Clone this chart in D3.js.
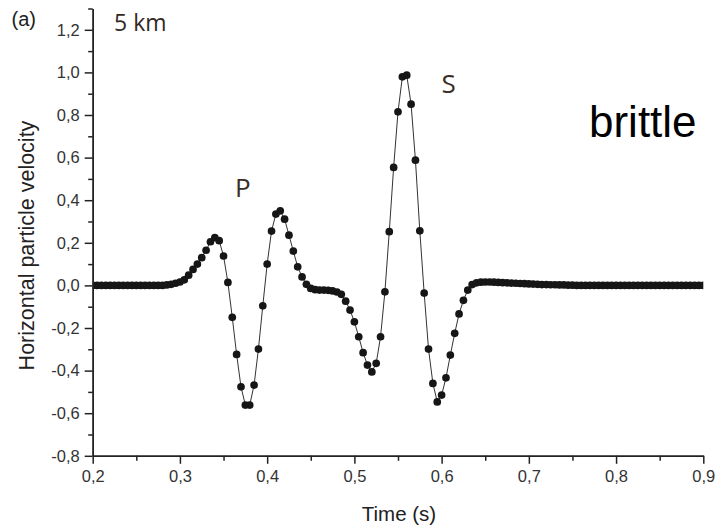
<!DOCTYPE html>
<html>
<head>
<meta charset="utf-8">
<script src="https://cdn.jsdelivr.net/npm/d3@7"></script>
<style>
  html, body { margin: 0; padding: 0; background: #fff; }
  svg { display: block; }
</style>
</head>
<body>
<svg id="chart" width="721" height="530"></svg>
<script>
// Sample times (s)
const times = [
  0.200, 0.205, 0.210, 0.215, 0.220, 0.225, 0.230, 0.235, 0.240, 0.245,
  0.250, 0.255, 0.260, 0.265, 0.270, 0.275, 0.280, 0.285, 0.290, 0.295,
  0.300, 0.305, 0.310, 0.315, 0.320, 0.325, 0.330, 0.335, 0.340, 0.345,
  0.350, 0.355, 0.360, 0.365, 0.370, 0.375, 0.380, 0.385, 0.390, 0.395,
  0.400, 0.405, 0.410, 0.415, 0.420, 0.425, 0.430, 0.435, 0.440, 0.445,
  0.450, 0.455, 0.460, 0.465, 0.470, 0.475, 0.480, 0.485, 0.490, 0.495,
  0.500, 0.505, 0.510, 0.515, 0.520, 0.525, 0.530, 0.535, 0.540, 0.545,
  0.550, 0.555, 0.560, 0.565, 0.570, 0.575, 0.580, 0.585, 0.590, 0.595,
  0.600, 0.605, 0.610, 0.615, 0.620, 0.625, 0.630, 0.635, 0.640, 0.645,
  0.650, 0.655, 0.660, 0.665, 0.670, 0.675, 0.680, 0.685, 0.690, 0.695,
  0.700, 0.705, 0.710, 0.715, 0.720, 0.725, 0.730, 0.735, 0.740, 0.745,
  0.750, 0.755, 0.760, 0.765, 0.770, 0.775, 0.780, 0.785, 0.790, 0.795,
  0.800, 0.805, 0.810, 0.815, 0.820, 0.825, 0.830, 0.835, 0.840, 0.845,
  0.850, 0.855, 0.860, 0.865, 0.870, 0.875, 0.880, 0.885, 0.890, 0.895,
  0.900
];

// Horizontal particle velocity at each sample
const velocity = [
  0, 0, 0, 0, 0, 0, 0, 0, 0, 0,
  0, 0, 0, 0, 0, 0, 0, 0.002, 0.005, 0.010,
  0.016, 0.026, 0.048, 0.075, 0.100, 0.130, 0.165, 0.205, 0.224, 0.210,
  0.138, 0.014, -0.150, -0.324, -0.476, -0.562, -0.562, -0.468, -0.299, -0.096,
  0.100, 0.255, 0.335, 0.350, 0.311, 0.236, 0.161, 0.087, 0.040, 0.005,
  -0.014, -0.020, -0.022, -0.022, -0.023, -0.026, -0.031, -0.042, -0.074, -0.116,
  -0.171, -0.241, -0.316, -0.374, -0.406, -0.366, -0.241, -0.030, 0.252, 0.554,
  0.815, 0.979, 0.987, 0.851, 0.588, 0.256, -0.036, -0.299, -0.460, -0.547,
  -0.515, -0.434, -0.327, -0.225, -0.134, -0.070, -0.022, 0.004, 0.012, 0.015,
  0.016, 0.016, 0.015, 0.014, 0.013, 0.012, 0.011, 0.010, 0.009, 0.008,
  0.007, 0.006, 0.005, 0.004, 0.004, 0.003, 0.003, 0.002, 0.002, 0.001,
  0.001, 0, 0, 0, 0, 0, 0, 0, 0, 0,
  0, 0, 0, 0, 0, 0, 0, 0, 0, 0,
  0, 0, 0, 0, 0, 0, 0, 0, 0, 0,
  0
];

// Axis ticks
const xTickValues = [0.2, 0.3, 0.4, 0.5, 0.6, 0.7, 0.8, 0.9];
const xMinorTicks = [0.25, 0.35, 0.45, 0.55, 0.65, 0.75, 0.85];
const yTickValues = [-0.8, -0.6, -0.4, -0.2, 0.0, 0.2, 0.4, 0.6, 0.8, 1.0, 1.2];
const yMinorTicks = [-0.7, -0.5, -0.3, -0.1, 0.1, 0.3, 0.5, 0.7, 0.9, 1.1, 1.3];

const xTitle = "Time (s)";
const yTitle = "Horizontal particle velocity";
const panelTag = "(a)";
const distanceLabel = "5 km";
const phaseLabels = [{ text: "P", t: 0.363, v: 0.415 }, { text: "S", t: 0.6, v: 0.905 }];
const regimeLabel = "brittle";

const svg = d3.select("#chart");
const sansFont = "'Liberation Sans', Arial, Helvetica, sans-serif";
const labelFont = "'Open Sans', 'Noto Sans', sans-serif";

const x = d3.scaleLinear().domain([0.2, 0.9]).range([92.7, 703.3]);
const y = d3.scaleLinear().domain([-0.8, 1.3]).range([455.8, 8.5]);

const locale = d3.formatLocale({ decimal: ",", thousands: ".", grouping: [3], currency: ["", ""], minus: "-" });
const fmt = locale.format(".1f");

// Clip region for the trace
svg.append("defs").append("clipPath").attr("id", "plot-clip")
  .append("rect")
  .attr("x", x.range()[0]).attr("y", 0)
  .attr("width", x.range()[1] - x.range()[0])
  .attr("height", y.range()[0]);

const data = times.map((t, i) => ({ t, v: velocity[i] }));

const trace = svg.append("g").attr("clip-path", "url(#plot-clip)");

trace.append("path")
  .datum(data)
  .attr("fill", "none")
  .attr("stroke", "#333")
  .attr("stroke-width", 1)
  .attr("d", d3.line().x(d => x(d.t)).y(d => y(d.v)));

trace.selectAll("circle")
  .data(data)
  .join("circle")
  .attr("cx", d => x(d.t))
  .attr("cy", d => y(d.v))
  .attr("r", 3.85)
  .attr("fill", "#161616");

// Axes
function styleAxis(g) {
  g.select(".domain").attr("stroke", "#222").attr("stroke-width", 1.5);
  g.selectAll(".tick line").attr("stroke", "#222").attr("stroke-width", 1.5);
  g.selectAll(".tick text")
    .attr("fill", "#333")
    .style("font-family", sansFont)
    .style("font-size", "16.5px");
}

const xAxisY = y.range()[0];
svg.append("g")
  .attr("transform", `translate(0,${xAxisY})`)
  .call(d3.axisBottom(x).tickValues(xMinorTicks).tickSize(5).tickSizeOuter(0).tickFormat(""))
  .call(styleAxis);
svg.append("g")
  .attr("transform", `translate(0,${xAxisY})`)
  .call(d3.axisBottom(x).tickValues(xTickValues).tickSize(8).tickSizeOuter(0).tickPadding(6).tickFormat(fmt))
  .call(styleAxis);

const yAxisX = x.range()[0];
svg.append("g")
  .attr("transform", `translate(${yAxisX},0)`)
  .call(d3.axisLeft(y).tickValues(yMinorTicks).tickSize(4.5).tickSizeOuter(0).tickFormat(""))
  .call(styleAxis);
svg.append("g")
  .attr("transform", `translate(${yAxisX},0)`)
  .call(d3.axisLeft(y).tickValues(yTickValues).tickSize(8).tickSizeOuter(0).tickPadding(5).tickFormat(fmt))
  .call(styleAxis);

// Axis titles
svg.append("text")
  .attr("x", 399).attr("y", 521)
  .attr("text-anchor", "middle")
  .attr("fill", "#222")
  .style("font-family", sansFont)
  .style("font-size", "20.5px")
  .text(xTitle);

svg.append("text")
  .attr("transform", "translate(33.5,245.5) rotate(-90)")
  .attr("text-anchor", "middle")
  .attr("fill", "#222")
  .style("font-family", sansFont)
  .style("font-size", "21.5px")
  .text(yTitle);

// Panel tag and annotations
svg.append("text")
  .attr("x", 11.5).attr("y", 25.5)
  .attr("fill", "#222")
  .style("font-family", sansFont)
  .style("font-size", "20px")
  .text(panelTag);

svg.append("text")
  .attr("x", 114).attr("y", 30.5)
  .attr("fill", "#33281f")
  .style("font-family", labelFont)
  .style("font-size", "23px")
  .text(distanceLabel);

svg.selectAll("text.phase")
  .data(phaseLabels)
  .join("text")
  .attr("class", "phase")
  .attr("x", d => x(d.t))
  .attr("y", d => y(d.v))
  .attr("fill", "#3a2e24")
  .style("font-family", labelFont)
  .style("font-size", "26px")
  .text(d => d.text);

svg.append("text")
  .attr("x", 589).attr("y", 137)
  .attr("fill", "#000")
  .style("font-family", sansFont)
  .style("font-size", "44px")
  .text(regimeLabel);
</script>
</body>
</html>
